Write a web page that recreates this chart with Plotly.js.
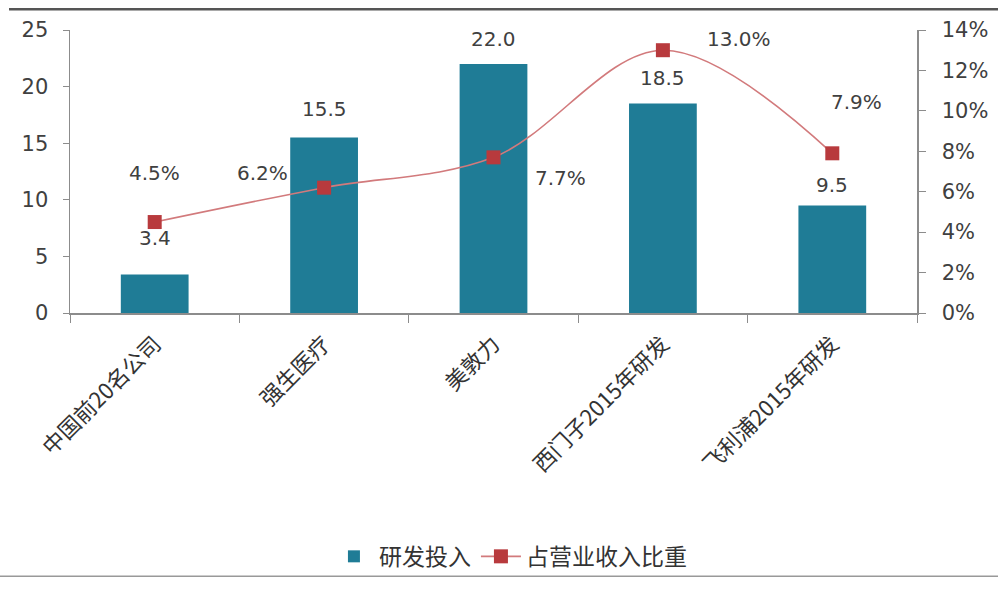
<!DOCTYPE html>
<html>
<head>
<meta charset="utf-8">
<script src="https://cdn.plot.ly/plotly-3.0.1.min.js"></script>
<style>html,body{margin:0;padding:0;background:#fff;}#chart{width:998px;height:590px;}</style>
</head>
<body>
<div id="chart"></div>
<script>
// ---- data ----
var categories = ['中国前20名公司', '强生医疗', '美敦力', '西门子2015年研发', '飞利浦2015年研发'];
var rdInvest = [3.4, 15.5, 22.0, 18.5, 9.5];
var revenueShare = [4.5, 6.2, 7.7, 13.0, 7.9];
var barLabels = ['3.4', '15.5', '22.0', '18.5', '9.5'];
var shareLabels = ['4.5%', '6.2%', '7.7%', '13.0%', '7.9%'];
var seriesNames = ['研发投入', '占营业收入比重'];

// ---- label offsets (px) ----
var barLabelDY = [37, 29, 25, 26, 20];
var shareLabelDX = [0, -62, 67, 76, 24];
var shareLabelDY = [49, 15, -21, 11, 51];

var cjk = '"Noto Sans CJK SC", "Open Sans", sans-serif';
var num = '"DejaVu Sans", Verdana, sans-serif';
var txtColor = '#404040';
var axisColor = '#8c8c8c';

var traces = [
  {
    type: 'bar', name: seriesNames[0], x: categories, y: rdInvest,
    marker: {color: '#1f7c96'}, yaxis: 'y'
  },
  {
    type: 'scatter', mode: 'lines+markers', name: seriesNames[1], x: categories, y: revenueShare,
    yaxis: 'y2', line: {color: '#d27a7c', width: 1.6, shape: 'spline', smoothing: 1},
    marker: {symbol: 'square', size: 14, color: '#b83a3d'}
  }
];

var annotations = [];
categories.forEach(function (c, i) {
  annotations.push({
    x: c, y: rdInvest[i], xref: 'x', yref: 'y', text: barLabels[i], showarrow: false,
    yshift: barLabelDY[i], font: {family: num, size: 20, color: txtColor}
  });
  annotations.push({
    x: c, y: revenueShare[i], xref: 'x', yref: 'y2', text: shareLabels[i], showarrow: false,
    xshift: shareLabelDX[i], yshift: shareLabelDY[i], font: {family: num, size: 20, color: txtColor}
  });
});

var layout = {
  width: 998, height: 590,
  margin: {l: 70, r: 81, t: 30, b: 272},
  paper_bgcolor: '#ffffff', plot_bgcolor: 'rgba(0,0,0,0)',
  font: {family: cjk, color: txtColor, size: 19},
  showlegend: true,
  bargap: 0.6,
  legend: {
    orientation: 'h', x: 0.52, xanchor: 'center', y: -0.86, yanchor: 'middle',
    bgcolor: 'rgba(0,0,0,0)',
    font: {family: cjk, size: 23, color: '#333'}, itemwidth: 40, traceorder: 'normal'
  },
  xaxis: {
    type: 'category', range: [-0.5, 4.5], tickangle: -45,
    showline: true, linecolor: axisColor, linewidth: 1.5,
    ticks: 'outside', tickson: 'boundaries', ticklen: 8, tickcolor: axisColor,
    ticklabelstandoff: 8,
    tickfont: {family: cjk, size: 22, color: '#333'}, showgrid: false, zeroline: false
  },
  yaxis: {
    range: [0, 25], dtick: 5, showline: true, linecolor: axisColor, linewidth: 1.5,
    ticks: 'outside', ticklen: 6, tickcolor: axisColor, ticklabelstandoff: 10,
    showgrid: false, zeroline: false, tickfont: {family: num, size: 21, color: txtColor}
  },
  yaxis2: {
    range: [0, 14], dtick: 2, ticksuffix: '%', overlaying: 'y', side: 'right',
    showline: true, linecolor: axisColor, linewidth: 1.5,
    ticks: 'outside', ticklen: 7, tickcolor: axisColor, ticklabelstandoff: 12,
    showgrid: false, zeroline: false, tickfont: {family: num, size: 21, color: txtColor}
  },
  annotations: annotations,
  shapes: [
    {type: 'line', xref: 'paper', yref: 'paper', x0: -0.072, x1: 1.096, y0: 1.073, y1: 1.073,
     line: {color: '#555', width: 2.5}},
    {type: 'line', xref: 'paper', yref: 'paper', x0: -0.083, x1: 1.096, y0: -0.93, y1: -0.93,
     line: {color: '#999', width: 1.5}}
  ]
};

Plotly.newPlot('chart', traces, layout, {displayModeBar: false, staticPlot: true});
</script>
</body>
</html>
